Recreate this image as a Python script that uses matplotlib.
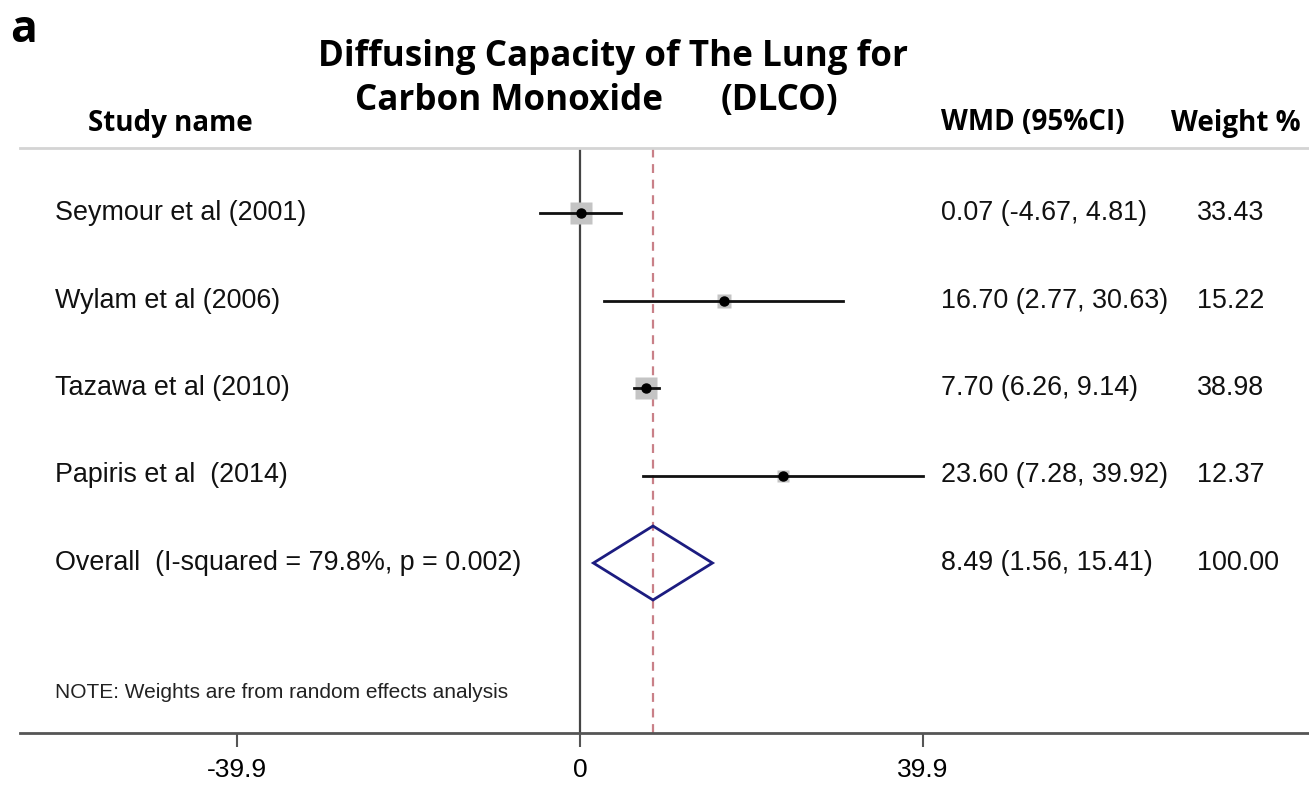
import matplotlib
matplotlib.use("Agg")
import matplotlib.pyplot as plt
from matplotlib.transforms import blended_transform_factory
from matplotlib.patches import Polygon
import numpy as np

# Study-level data
studies = ["Seymour et al (2001)", "Wylam et al (2006)", "Tazawa et al (2010)", "Papiris et al  (2014)"]
wmd = [0.07, 16.70, 7.70, 23.60]
ci_low = [-4.67, 2.77, 6.26, 7.28]
ci_high = [4.81, 30.63, 9.14, 39.92]
weights = [33.43, 15.22, 38.98, 12.37]

# Pooled estimate
overall_label = "Overall  (I-squared = 79.8%, p = 0.002)"
overall_wmd = 8.49
overall_low = 1.56
overall_high = 15.41
overall_weight = 100.00

tick_values = [-39.9, 0, 39.9]
tick_labels = ["-39.9", "0", "39.9"]

W, H = 1309, 785
fig = plt.figure(figsize=(W / 100, H / 100), dpi=100)

# plot region in pixels
ax_left, ax_right, ax_top, ax_bottom = 20, 1309, 148, 733
ax = fig.add_axes([ax_left / W, 1 - ax_bottom / H, (ax_right - ax_left) / W, (ax_bottom - ax_top) / H])

px_per_unit = (922 - 236) / 79.8
zero_px = 580
ax.set_xlim((ax_left - zero_px) / px_per_unit, (ax_right - zero_px) / px_per_unit)
row_px = 87.5
first_row_px = 213
ax.set_ylim((ax_bottom - first_row_px) / row_px, (ax_top - first_row_px) / row_px)

for s in ["left", "right"]:
    ax.spines[s].set_visible(False)
ax.spines["top"].set_color("#d4d4d4")
ax.spines["top"].set_linewidth(2)
ax.spines["bottom"].set_color("#555555")
ax.spines["bottom"].set_linewidth(2)
ax.set_yticks([])
ax.set_xticks(tick_values)
ax.set_xticklabels(tick_labels, fontsize=19, family="Liberation Sans")
ax.tick_params(axis="x", length=10, width=1.5, color="#555555", pad=8)

# reference lines
ax.axvline(0, color="#444444", lw=1.6, zorder=1)
ax.axvline(overall_wmd, color="#c98088", lw=1.6, ls=(0, (4, 3)), zorder=1)

rows = np.arange(len(studies))
max_side = 23
for y, est, lo, hi, w in zip(rows, wmd, ci_low, ci_high, weights):
    side = max_side * np.sqrt(w / max(weights))
    ax.plot([est], [y], marker="s", ms=side * 0.72, color="#c4c4c4", mec="none", zorder=2)
    ax.plot([lo, hi], [y, y], color="#111111", lw=2, zorder=3)
    ax.plot([est], [y], marker="o", ms=6.5, color="black", zorder=4)

oy = len(studies)
dh = 37 / row_px
diamond = Polygon([[overall_low, oy], [overall_wmd, oy - dh], [overall_high, oy], [overall_wmd, oy + dh]],
                  closed=True, fill=False, edgecolor="#1c1c80", lw=2, zorder=3)
ax.add_patch(diamond)

# text columns
tr = blended_transform_factory(fig.transFigure, ax.transData)
body = dict(fontsize=19.4, family="Liberation Sans", va="center", transform=tr, color="#111111")
for y, name, est, lo, hi, w in zip(rows, studies, wmd, ci_low, ci_high, weights):
    ax.text(55 / W, y, name, **body)
    ax.text(941 / W, y, f"{est:.2f} ({lo:.2f}, {hi:.2f})", **body)
    ax.text(1197 / W, y, f"{w:.2f}", **body)
ax.text(55 / W, oy, overall_label, **body)
ax.text(941 / W, oy, f"{overall_wmd:.2f} ({overall_low:.2f}, {overall_high:.2f})", **body)
ax.text(1197 / W, oy, f"{overall_weight:.2f}", **body)

ax.text(55 / W, (693 - first_row_px) / row_px, "NOTE: Weights are from random effects analysis",
        fontsize=15, family=["Liberation Sans Narrow", "Liberation Sans"], va="center", transform=tr,
        color="#222222")

# headers
hdr = dict(fontsize=20, family="Open Sans", weight="bold", va="center", color="black")
fig.text(88 / W, 1 - 123 / H, "Study name", **hdr)
fig.text(941 / W, 1 - 123 / H, "WMD (95%CI)", **hdr)
fig.text(1171 / W, 1 - 123 / H, "Weight %", **hdr)

ttl = dict(fontsize=25.2, family="Open Sans", weight="bold", va="center", color="black")
fig.text(613 / W, 1 - 57 / H, "Diffusing Capacity of The Lung for", ha="center", **ttl)
fig.text(355 / W, 1 - 101 / H, "Carbon Monoxide", ha="left", **ttl)
fig.text(721 / W, 1 - 101 / H, "(DLCO)", ha="left", **ttl)

fig.text(10 / W, 1 - 30 / H, "a", fontsize=32, family="Open Sans", weight="bold", va="center", color="black")

fig.savefig("out.png", dpi=100)
